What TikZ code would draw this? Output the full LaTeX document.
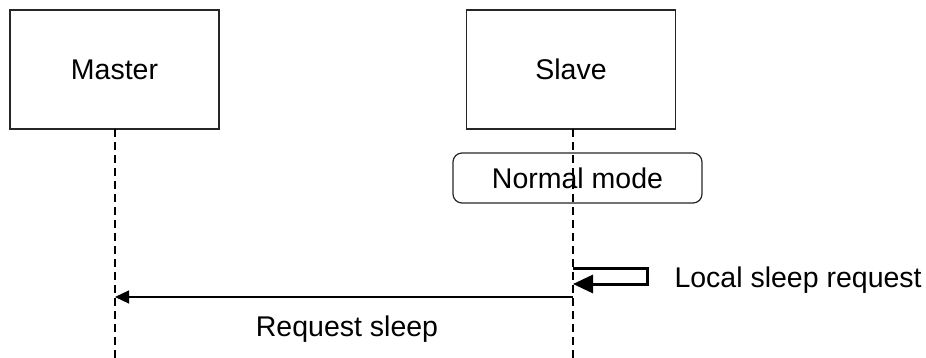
\documentclass[tikz,border=0pt]{standalone}
\usepackage{fontspec}
\setmainfont{Liberation Sans}
\usetikzlibrary{arrows.meta}

\begin{document}
\begin{tikzpicture}[x=1pt, y=-1pt, font=\fontsize{28.5}{34}\selectfont]
        \useasboundingbox (0,0) rectangle (926,358);

        % Teilnehmer
        \node[draw=black!85, line width=1.2pt, minimum width=209pt, minimum height=119pt, inner sep=0pt] (master) at (114.5, 69.5) {Master};
        \node[draw=black!85, line width=1.2pt, minimum width=209pt, minimum height=119pt, inner sep=0pt] (slave) at (571, 69.5) {Slave};

        % Zustand des Slaves
        \node[draw=black!85, line width=1.2pt, rounded corners=9pt, minimum width=249pt, minimum height=50pt, inner sep=0pt] (normal) at (577.5, 178) {Normal mode};

        % Lebenslinien
        \coordinate (mtop) at (115, 129);
        \coordinate (mend) at (115, 358);
        \coordinate (stop) at (573, 129);
        \coordinate (send) at (573, 358);
        \draw[line width=1.3pt, dash pattern=on 8pt off 5pt] (mtop) -- (mend);
        \draw[line width=1.3pt, dash pattern=on 8pt off 5pt] (stop) -- (send);

        % lokale Anforderung
        \coordinate (loc1) at (573, 268);
        \coordinate (loc2) at (573, 284);
        \draw[line width=3pt, -{Triangle[length=20pt, width=18pt]}] (loc1) -- ++(74, 0) |- (loc2);
        \node[anchor=west] (local) at (671, 280) {Local sleep request};

        % Nachricht an den Master
        \coordinate (req1) at (573, 297);
        \coordinate (req2) at (115, 297);
        \draw[line width=1.2pt, -{Triangle[length=14pt, width=13pt]}] (req1) -- (req2);
        \node (reqlabel) at (347, 329) {Request sleep};
    \end{tikzpicture}
\end{document}
